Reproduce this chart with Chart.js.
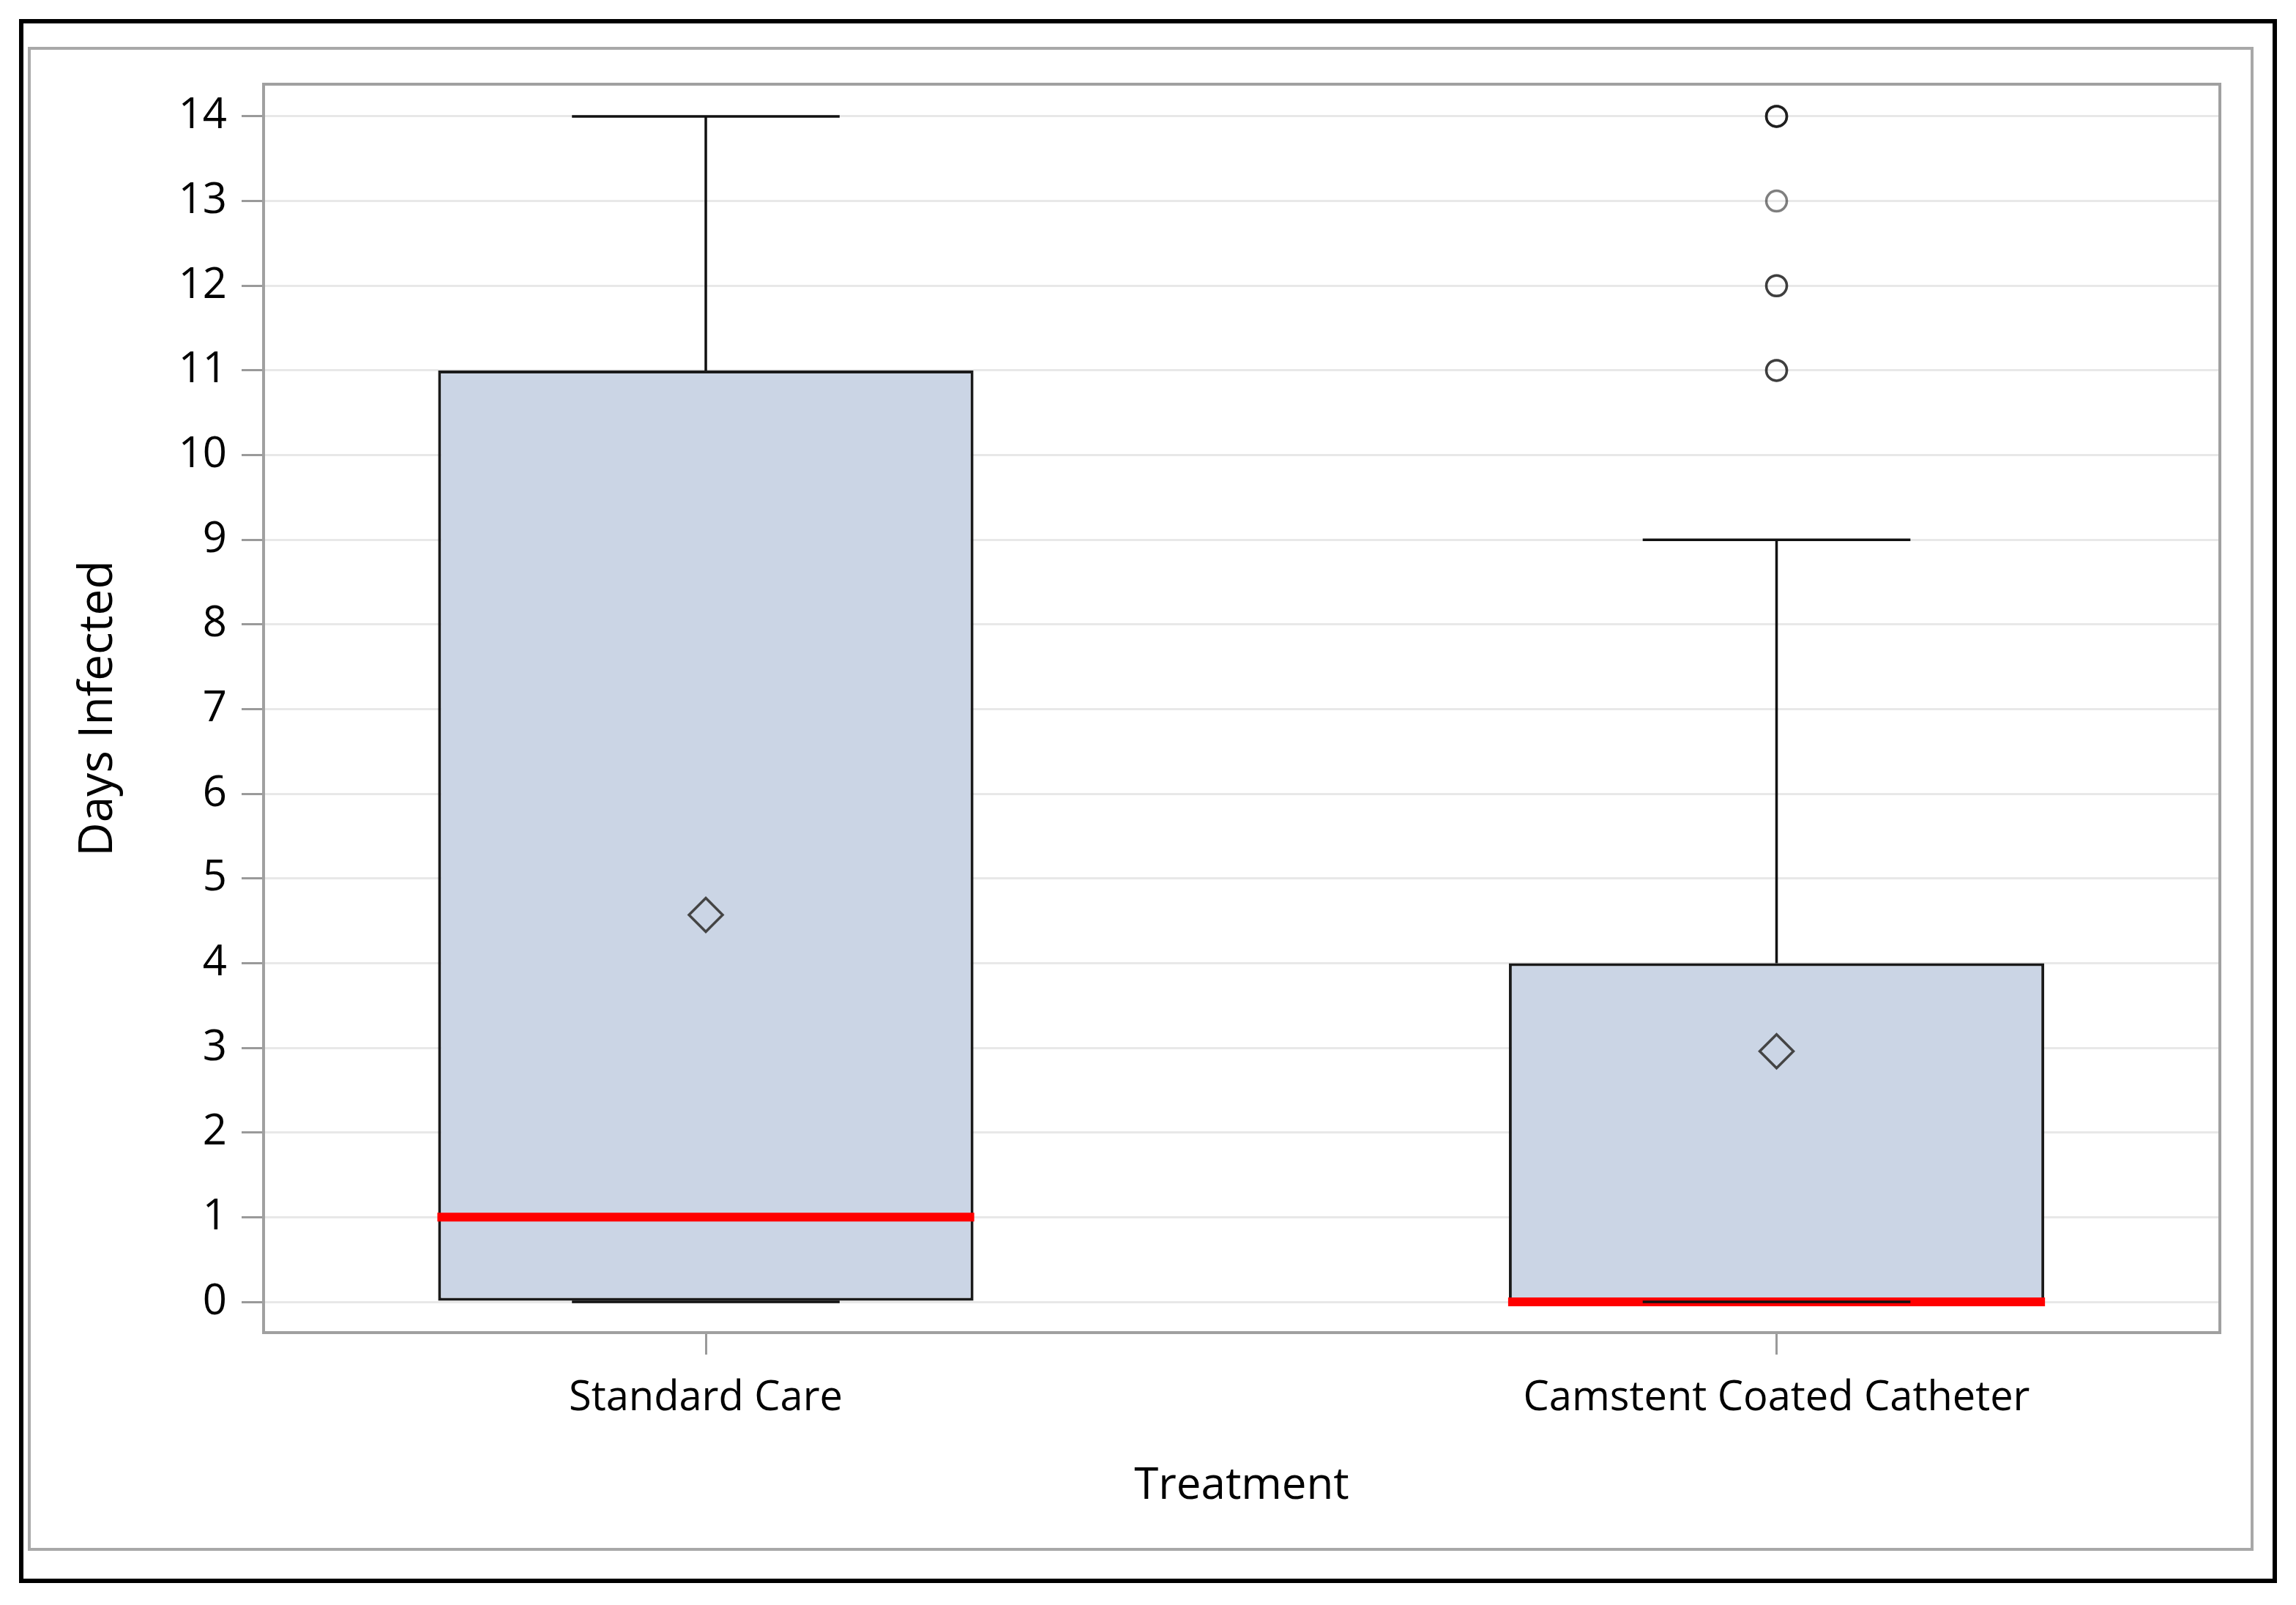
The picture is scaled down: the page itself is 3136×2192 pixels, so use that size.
<!DOCTYPE html>
<html>
<head>
<meta charset="utf-8">
<title>Days Infected by Treatment</title>
<script src="https://cdn.jsdelivr.net/npm/chart.js@4.4.1/dist/chart.umd.min.js"></script>
<style>
  html, body { margin: 0; padding: 0; background: #fff; }
  canvas { display: block; }
</style>
</head>
<body>
<canvas id="boxChart" width="3136" height="2192"></canvas>
<script>
// categories and where they sit on the x axis
const treatments = ["Standard Care", "Camstent Coated Catheter"];
const xPos = [1, 2];

// box statistics (days infected)
const q1 = [0, 0];
const q3 = [11, 4];
const medians = [1, 0];
const whiskerLow = [0, 0];
const whiskerHigh = [14, 9];
const means = [4.57, 2.96];

// outliers of the camstent group; repeated values overlap and look darker
const outlierX = [2, 2, 2, 2, 2, 2, 2, 2];
const outlierY = [14, 14, 14, 13, 12, 12, 11, 11];

const yTicks = [0, 1, 2, 3, 4, 5, 6, 7, 8, 9, 10, 11, 12, 13, 14];

const FONT = "'Open Sans', 'Noto Sans', 'DejaVu Sans', sans-serif";

// whiskers, caps and red medians, drawn right after the boxes
const boxExtras = {
  id: "boxExtras",
  beforeDraw(chart) {
    const ctx = chart.ctx;
    ctx.save();
    ctx.fillStyle = "#fff";
    ctx.fillRect(0, 0, chart.width, chart.height);
    ctx.strokeStyle = "#000";
    ctx.lineWidth = 6;
    ctx.strokeRect(29, 29, chart.width - 58, chart.height - 62);
    ctx.strokeStyle = "#a8a8a8";
    ctx.lineWidth = 4;
    ctx.strokeRect(40, 66, chart.width - 100, chart.height - 142);
    ctx.restore();
  },
  beforeDatasetsDraw(chart) {
    const a = chart.chartArea;
    const ctx = chart.ctx;
    ctx.save();
    ctx.strokeStyle = "#a0a0a0";
    ctx.lineWidth = 4;
    ctx.strokeRect(a.left, a.top, a.right - a.left, a.bottom - a.top);
    ctx.restore();
  },
  afterDatasetDraw(chart, args) {
    if (args.meta.type !== "bar") return;
    const ctx = chart.ctx;
    const xs = chart.scales.x;
    const ys = chart.scales.y;
    ctx.save();
    ctx.lineCap = "butt";
    for (let i = 0; i < xPos.length; i++) {
      const xc = xs.getPixelForValue(xPos[i]);
      const boxHalf = xs.getPixelForValue(xPos[i] + 0.25) - xc;
      const capHalf = xs.getPixelForValue(xPos[i] + 0.125) - xc;

      ctx.strokeStyle = "#111";
      ctx.lineWidth = 3.5;
      ctx.beginPath();
      ctx.moveTo(xc, ys.getPixelForValue(q3[i]));
      ctx.lineTo(xc, ys.getPixelForValue(whiskerHigh[i]));
      ctx.moveTo(xc, ys.getPixelForValue(q1[i]));
      ctx.lineTo(xc, ys.getPixelForValue(whiskerLow[i]));
      ctx.stroke();

      ctx.strokeStyle = "#ff0000";
      ctx.lineWidth = 12;
      ctx.beginPath();
      ctx.moveTo(xc - boxHalf - 1, ys.getPixelForValue(medians[i]));
      ctx.lineTo(xc + boxHalf + 1, ys.getPixelForValue(medians[i]));
      ctx.stroke();

      ctx.strokeStyle = "#111";
      ctx.lineWidth = 3.5;
      ctx.beginPath();
      ctx.moveTo(xc - capHalf, ys.getPixelForValue(whiskerHigh[i]));
      ctx.lineTo(xc + capHalf, ys.getPixelForValue(whiskerHigh[i]));
      ctx.moveTo(xc - capHalf, ys.getPixelForValue(whiskerLow[i]));
      ctx.lineTo(xc + capHalf, ys.getPixelForValue(whiskerLow[i]));
      ctx.stroke();
    }
    ctx.restore();
  }
};

new Chart(document.getElementById("boxChart"), {
  type: "bar",
  data: {
    datasets: [
      {
        type: "scatter",
        label: "Outliers",
        data: outlierX.map((x, i) => ({ x: x, y: outlierY[i] })),
        pointStyle: "circle",
        pointRadius: 14,
        pointBorderWidth: 3.5,
        borderColor: "rgba(0, 0, 0, 0.5)",
        backgroundColor: "rgba(0, 0, 0, 0)"
      },
      {
        type: "scatter",
        label: "Mean",
        data: xPos.map((x, i) => ({ x: x, y: means[i] })),
        pointStyle: "rectRot",
        pointRadius: 23,
        pointBorderWidth: 3.5,
        borderColor: "#444",
        backgroundColor: "rgba(0, 0, 0, 0)"
      },
      {
        type: "bar",
        label: "Days Infected",
        data: xPos.map((x, i) => ({ x: x, y: [q1[i], q3[i]] })),
        backgroundColor: "#cbd5e5",
        borderColor: "#1a1a1a",
        borderWidth: 4,
        borderSkipped: false,
        barPercentage: 0.5,
        categoryPercentage: 1
      }
    ]
  },
  options: {
    responsive: false,
    devicePixelRatio: 1,
    animation: false,
    events: [],
    layout: { padding: { left: 0, top: 115, right: 104, bottom: 0 } },
    plugins: {
      legend: { display: false },
      tooltip: { enabled: false }
    },
    scales: {
      x: {
        type: "linear",
        offset: false,
        min: 0.587,
        max: 2.414,
        afterBuildTicks: (scale) => { scale.ticks = xPos.map((v) => ({ value: v })); },
        afterFit: (scale) => { scale.height = 372; },
        border: { display: false },
        grid: {
          offset: false,
          drawOnChartArea: false,
          drawTicks: true,
          tickLength: 30,
          tickWidth: 3,
          tickColor: "#9a9a9a"
        },
        ticks: {
          padding: 26,
          color: "#000",
          font: { family: FONT, size: 56 },
          maxRotation: 0,
          callback: (value) => treatments[xPos.indexOf(value)]
        },
        title: {
          display: true,
          text: "Treatment",
          color: "#000",
          font: { family: FONT, size: 60 },
          padding: { top: 0, bottom: 126 }
        }
      },
      y: {
        type: "linear",
        min: -0.363,
        max: 14.38,
        afterBuildTicks: (scale) => { scale.ticks = yTicks.map((v) => ({ value: v })); },
        afterFit: (scale) => { scale.width = 360; },
        border: { display: false },
        grid: {
          color: "#e8e8e8",
          lineWidth: 3,
          tickLength: 30,
          tickWidth: 3,
          tickColor: "#9a9a9a"
        },
        ticks: {
          padding: 20,
          color: "#000",
          font: { family: FONT, size: 58 }
        },
        title: {
          display: true,
          text: "Days Infected",
          color: "#000",
          font: { family: FONT, size: 64 },
          padding: { top: 96, bottom: 0 }
        }
      }
    }
  },
  plugins: [boxExtras]
});
</script>
</body>
</html>
